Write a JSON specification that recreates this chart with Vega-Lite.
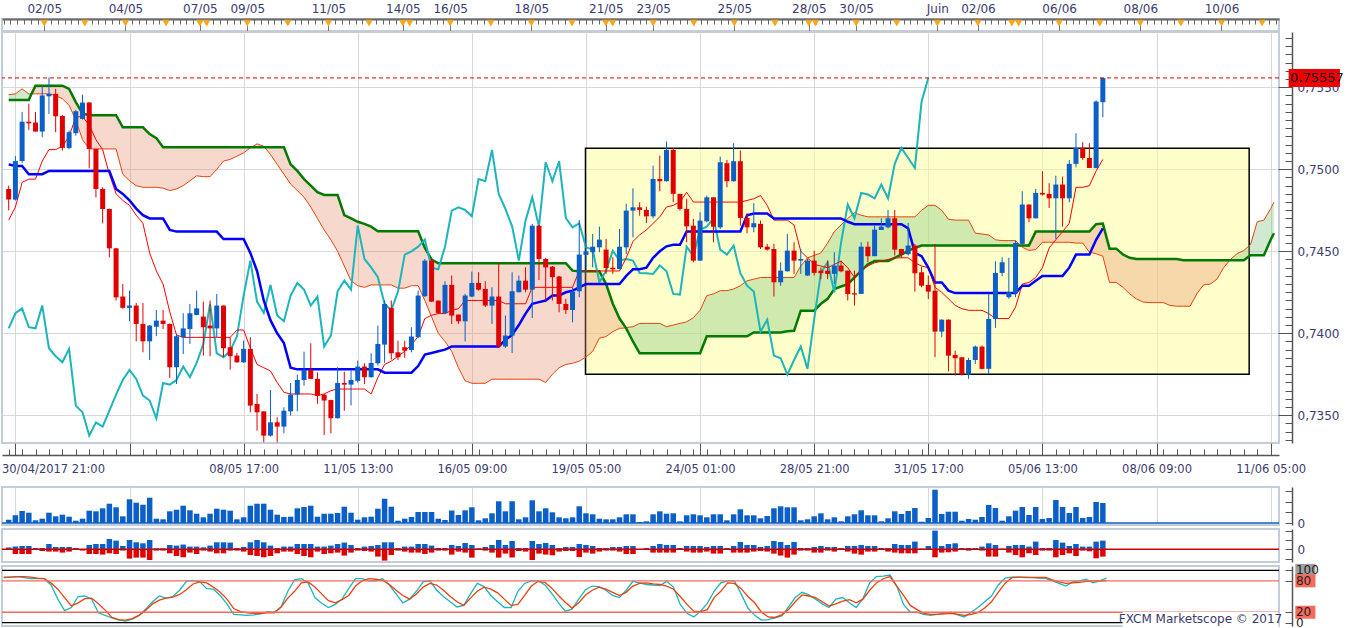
{
  "$schema": "https://vega.github.io/schema/vega-lite/v6.json",
  "padding": {"left": 0, "top": 1, "right": 0, "bottom": 0},
  "background": "white",
  "config": {
    "view": {"stroke": "#c4ccd8", "strokeWidth": 2},
    "axis": {"labelFont": "DejaVu Sans", "labelColor": "#3b3b6e", "labelFontSize": 12, "domainColor": "#555555", "tickColor": "#555555", "gridColor": "#d8d8d8", "gridWidth": 1},
    "text": {"font": "DejaVu Sans"}
  },
  "datasets": {
    "k": [
      {"i":0,"o":0.7488,"h":0.749,"l":0.7475,"c":0.74815,"v":3.3,"u":1.7,"n":-0.7,"sk":87,"sd":86,"t":0.7469,"j":0.7503},
      {"i":1,"o":0.74815,"h":0.7508,"l":0.7481,"c":0.7505,"v":7.7,"u":2.7,"n":-4.7,"sk":87,"sd":87,"t":0.7477,"j":0.7502},
      {"i":2,"o":0.7505,"h":0.7535,"l":0.7504,"c":0.7529,"v":12,"u":3.3,"n":-4.7,"sk":88,"sd":88,"t":0.7492,"j":0.7502},
      {"i":3,"o":0.7529,"h":0.754,"l":0.7524,"c":0.7528,"v":10.3,"u":3.3,"n":-4.7,"sk":86,"sd":88,"t":0.7494,"j":0.7497},
      {"i":4,"o":0.75285,"h":0.7535,"l":0.7523,"c":0.7523,"v":2.7,"u":1.3,"n":-0.7,"sk":84,"sd":87,"t":0.7494,"j":0.7497},
      {"i":5,"o":0.7523,"h":0.7551,"l":0.75195,"c":0.7545,"v":4.3,"u":1.3,"n":-1.7,"sk":84,"sd":85,"t":0.7505,"j":0.7497},
      {"i":6,"o":0.75445,"h":0.7556,"l":0.75337,"c":0.7546,"v":10.3,"u":5.3,"n":-2.3,"sk":84,"sd":84,"t":0.7512,"j":0.7499},
      {"i":7,"o":0.7546,"h":0.7549,"l":0.75226,"c":0.75323,"v":6.7,"u":2.3,"n":-2.3,"sk":72,"sd":76,"t":0.7512,"j":0.7499},
      {"i":8,"o":0.75325,"h":0.7533,"l":0.75114,"c":0.7513,"v":8.3,"u":2.3,"n":-3.3,"sk":45,"sd":64,"t":0.7514,"j":0.7499},
      {"i":9,"o":0.7513,"h":0.75236,"l":0.75122,"c":0.75226,"v":6.3,"u":2.3,"n":-2.3,"sk":23,"sd":48,"t":0.752,"j":0.7499},
      {"i":10,"o":0.7522,"h":0.75362,"l":0.75205,"c":0.75354,"v":2.3,"u":1.3,"n":-0.7,"sk":29,"sd":32,"t":0.7532,"j":0.7499},
      {"i":11,"o":0.75307,"h":0.75455,"l":0.75303,"c":0.75407,"v":4.3,"u":0.3,"n":-1.3,"sk":50,"sd":38,"t":0.7532,"j":0.7499},
      {"i":12,"o":0.75407,"h":0.7541,"l":0.75006,"c":0.75124,"v":12.3,"u":4.3,"n":-4.7,"sk":51,"sd":46,"t":0.7527,"j":0.7499},
      {"i":13,"o":0.75124,"h":0.75124,"l":0.74829,"c":0.7488,"v":11.7,"u":5.3,"n":-4.7,"sk":45,"sd":47,"t":0.7518,"j":0.7499},
      {"i":14,"o":0.7488,"h":0.7489,"l":0.7467,"c":0.74758,"v":14.7,"u":5.3,"n":-5.3,"sk":19,"sd":36,"t":0.7512,"j":0.7499},
      {"i":15,"o":0.74758,"h":0.7476,"l":0.74463,"c":0.74518,"v":19.3,"u":10.3,"n":-4,"sk":14,"sd":24,"t":0.7497,"j":0.7499},
      {"i":16,"o":0.74518,"h":0.7452,"l":0.742,"c":0.74219,"v":15.7,"u":8.7,"n":-4.7,"sk":9,"sd":10,"t":0.7485,"j":0.7488},
      {"i":17,"o":0.74224,"h":0.743,"l":0.7415,"c":0.74155,"v":6.7,"u":3.3,"n":-1.3,"sk":5,"sd":6,"t":0.7481,"j":0.7485},
      {"i":18,"o":0.74155,"h":0.7426,"l":0.74073,"c":0.74169,"v":23.7,"u":9.3,"n":-9.3,"sk":3,"sd":5,"t":0.7478,"j":0.7481},
      {"i":19,"o":0.74169,"h":0.74185,"l":0.73951,"c":0.74057,"v":20.3,"u":7,"n":-8.3,"sk":7,"sd":8,"t":0.7472,"j":0.7476},
      {"i":20,"o":0.74057,"h":0.74185,"l":0.73884,"c":0.73951,"v":18.3,"u":6,"n":-8.3,"sk":14,"sd":14,"t":0.7467,"j":0.7472},
      {"i":21,"o":0.73951,"h":0.7405,"l":0.73837,"c":0.74047,"v":25.3,"u":9.3,"n":-10.7,"sk":26,"sd":24,"t":0.7449,"j":0.747},
      {"i":22,"o":0.7404,"h":0.74142,"l":0.73982,"c":0.74077,"v":4.3,"u":1,"n":-1.3,"sk":40,"sd":36,"t":0.7438,"j":0.747},
      {"i":23,"o":0.74077,"h":0.74142,"l":0.74026,"c":0.74057,"v":3.7,"u":1,"n":-1.3,"sk":51,"sd":43,"t":0.743,"j":0.747},
      {"i":24,"o":0.74057,"h":0.7406,"l":0.73728,"c":0.73793,"v":11.7,"u":4.3,"n":-4,"sk":47,"sd":47,"t":0.7413,"j":0.7463},
      {"i":25,"o":0.73793,"h":0.73996,"l":0.73691,"c":0.73982,"v":13.3,"u":3.7,"n":-6.7,"sk":50,"sd":49,"t":0.7399,"j":0.7462},
      {"i":26,"o":0.73976,"h":0.74122,"l":0.73874,"c":0.7403,"v":17.3,"u":4.7,"n":-8,"sk":62,"sd":54,"t":0.73975,"j":0.7462},
      {"i":27,"o":0.74026,"h":0.74179,"l":0.73935,"c":0.74122,"v":12.7,"u":2.7,"n":-3.3,"sk":79,"sd":63,"t":0.73975,"j":0.7462},
      {"i":28,"o":0.74112,"h":0.7426,"l":0.7411,"c":0.74152,"v":9.3,"u":2.7,"n":-4.7,"sk":81,"sd":74,"t":0.73975,"j":0.7462},
      {"i":29,"o":0.74102,"h":0.74193,"l":0.73864,"c":0.74037,"v":5.7,"u":2,"n":-1.3,"sk":78,"sd":78,"t":0.73975,"j":0.7462},
      {"i":30,"o":0.74047,"h":0.742,"l":0.7386,"c":0.7403,"v":9.3,"u":3.7,"n":-2.3,"sk":65,"sd":76,"t":0.73975,"j":0.7462},
      {"i":31,"o":0.7403,"h":0.7424,"l":0.73976,"c":0.74169,"v":14.3,"u":7,"n":-4,"sk":64,"sd":68,"t":0.73975,"j":0.7462},
      {"i":32,"o":0.74169,"h":0.7417,"l":0.73854,"c":0.73909,"v":13.3,"u":7,"n":-4,"sk":52,"sd":58,"t":0.73975,"j":0.74575},
      {"i":33,"o":0.73915,"h":0.73976,"l":0.73778,"c":0.7386,"v":12.3,"u":6.7,"n":-1.3,"sk":36,"sd":45,"t":0.73975,"j":0.74575},
      {"i":34,"o":0.73864,"h":0.7388,"l":0.7382,"c":0.73823,"v":3.7,"u":1.3,"n":-1.3,"sk":16,"sd":27,"t":0.7402,"j":0.74575},
      {"i":35,"o":0.73823,"h":0.73955,"l":0.7382,"c":0.73905,"v":5.7,"u":2.3,"n":-2.3,"sk":15,"sd":21,"t":0.7402,"j":0.74575},
      {"i":36,"o":0.73905,"h":0.73976,"l":0.73518,"c":0.73559,"v":17.3,"u":7,"n":-5.7,"sk":14,"sd":19,"t":0.7391,"j":0.7449},
      {"i":37,"o":0.73569,"h":0.7363,"l":0.73406,"c":0.73518,"v":19.3,"u":9.3,"n":-6.7,"sk":15,"sd":18,"t":0.7381,"j":0.7438},
      {"i":38,"o":0.73524,"h":0.73524,"l":0.73335,"c":0.73376,"v":19.3,"u":7,"n":-8,"sk":17,"sd":18,"t":0.7379,"j":0.742},
      {"i":39,"o":0.73376,"h":0.73654,"l":0.7337,"c":0.73457,"v":13.3,"u":3.7,"n":-6.7,"sk":21,"sd":19,"t":0.7377,"j":0.7408},
      {"i":40,"o":0.73457,"h":0.73488,"l":0.73335,"c":0.73431,"v":8.3,"u":1.3,"n":-4,"sk":20,"sd":19,"t":0.737,"j":0.74},
      {"i":41,"o":0.73431,"h":0.73549,"l":0.7339,"c":0.73528,"v":6,"u":2.7,"n":-2.3,"sk":30,"sd":30,"t":0.7364,"j":0.7394},
      {"i":42,"o":0.73524,"h":0.73697,"l":0.73498,"c":0.73626,"v":6.3,"u":2.7,"n":-2.3,"sk":60,"sd":47,"t":0.7363,"j":0.7379},
      {"i":43,"o":0.73626,"h":0.73748,"l":0.73524,"c":0.73715,"v":14.7,"u":5.3,"n":-4.7,"sk":82,"sd":60,"t":0.7363,"j":0.7378},
      {"i":44,"o":0.73715,"h":0.73888,"l":0.73681,"c":0.73776,"v":16,"u":5.3,"n":-6.7,"sk":84,"sd":76,"t":0.7363,"j":0.7378},
      {"i":45,"o":0.73776,"h":0.73939,"l":0.7372,"c":0.73722,"v":17.3,"u":5.3,"n":-8,"sk":76,"sd":78,"t":0.7363,"j":0.7378},
      {"i":46,"o":0.73722,"h":0.73762,"l":0.7357,"c":0.7362,"v":6.3,"u":2.7,"n":-2.3,"sk":48,"sd":68,"t":0.7362,"j":0.7378},
      {"i":47,"o":0.73626,"h":0.7363,"l":0.7338,"c":0.7359,"v":9.3,"u":2.7,"n":-4.7,"sk":37,"sd":55,"t":0.7363,"j":0.7378},
      {"i":48,"o":0.73593,"h":0.73595,"l":0.7339,"c":0.73482,"v":9.3,"u":3.7,"n":-4,"sk":29,"sd":42,"t":0.7365,"j":0.7378},
      {"i":49,"o":0.73482,"h":0.73793,"l":0.7348,"c":0.73697,"v":10,"u":5.3,"n":-3.3,"sk":35,"sd":38,"t":0.7366,"j":0.7378},
      {"i":50,"o":0.73697,"h":0.73766,"l":0.73528,"c":0.73687,"v":16.3,"u":6.7,"n":-6.3,"sk":45,"sd":44,"t":0.7366,"j":0.7378},
      {"i":51,"o":0.73687,"h":0.73772,"l":0.7356,"c":0.73715,"v":10.3,"u":4.3,"n":-3.3,"sk":65,"sd":52,"t":0.7366,"j":0.7378},
      {"i":52,"o":0.7371,"h":0.73833,"l":0.737,"c":0.73797,"v":3.3,"u":1.3,"n":-1.3,"sk":84,"sd":70,"t":0.7366,"j":0.7378},
      {"i":53,"o":0.73797,"h":0.73817,"l":0.7369,"c":0.73732,"v":5.7,"u":2.7,"n":-1.7,"sk":84,"sd":80,"t":0.7366,"j":0.7378},
      {"i":54,"o":0.73732,"h":0.73878,"l":0.7373,"c":0.73819,"v":6.3,"u":3.3,"n":-2.3,"sk":80,"sd":84,"t":0.7363,"j":0.7378},
      {"i":55,"o":0.73817,"h":0.74047,"l":0.73803,"c":0.73935,"v":14.3,"u":4.3,"n":-7.3,"sk":80,"sd":83,"t":0.7373,"j":0.7378},
      {"i":56,"o":0.73931,"h":0.742,"l":0.7382,"c":0.74179,"v":24.3,"u":7,"n":-11.3,"sk":84,"sd":81,"t":0.7381,"j":0.7376},
      {"i":57,"o":0.74155,"h":0.742,"l":0.7384,"c":0.73878,"v":16.3,"u":7,"n":-5.7,"sk":72,"sd":73,"t":0.7383,"j":0.7376},
      {"i":58,"o":0.73884,"h":0.73955,"l":0.73837,"c":0.73854,"v":2.3,"u":1.3,"n":-1.3,"sk":55,"sd":62,"t":0.7386,"j":0.7376},
      {"i":59,"o":0.73915,"h":0.73955,"l":0.7385,"c":0.73894,"v":4.3,"u":2.7,"n":-2.3,"sk":38,"sd":52,"t":0.7389,"j":0.7376},
      {"i":60,"o":0.73898,"h":0.74037,"l":0.73884,"c":0.7398,"v":6,"u":2.7,"n":-3.3,"sk":45,"sd":45,"t":0.7393,"j":0.7376},
      {"i":61,"o":0.73976,"h":0.7426,"l":0.7397,"c":0.7423,"v":11,"u":5.3,"n":-3.3,"sk":60,"sd":55,"t":0.7398,"j":0.738},
      {"i":62,"o":0.74226,"h":0.74453,"l":0.7422,"c":0.74443,"v":11,"u":5.3,"n":-4.7,"sk":78,"sd":68,"t":0.7409,"j":0.7387},
      {"i":63,"o":0.74443,"h":0.74453,"l":0.7419,"c":0.74193,"v":11,"u":3.7,"n":-3.3,"sk":80,"sd":75,"t":0.7411,"j":0.7388},
      {"i":64,"o":0.74199,"h":0.742,"l":0.74118,"c":0.74124,"v":4.3,"u":1.3,"n":-1.3,"sk":62,"sd":72,"t":0.7412,"j":0.7389},
      {"i":65,"o":0.74122,"h":0.74317,"l":0.7412,"c":0.74295,"v":3,"u":1.3,"n":-1.3,"sk":50,"sd":62,"t":0.7412,"j":0.739},
      {"i":66,"o":0.74295,"h":0.74352,"l":0.74057,"c":0.74108,"v":12.5,"u":4.3,"n":-5.3,"sk":40,"sd":50,"t":0.7414,"j":0.7392},
      {"i":67,"o":0.74114,"h":0.74114,"l":0.74057,"c":0.74073,"v":8,"u":3.3,"n":-2.3,"sk":30,"sd":40,"t":0.7415,"j":0.7392},
      {"i":68,"o":0.74073,"h":0.7424,"l":0.73951,"c":0.7423,"v":12.7,"u":6.3,"n":-3.3,"sk":33,"sd":33,"t":0.742,"j":0.7392},
      {"i":69,"o":0.74224,"h":0.74376,"l":0.7422,"c":0.74307,"v":15.7,"u":4.3,"n":-8.3,"sk":55,"sd":47,"t":0.742,"j":0.7392},
      {"i":70,"o":0.74307,"h":0.74372,"l":0.7426,"c":0.74266,"v":2.7,"u":1,"n":0,"sk":75,"sd":60,"t":0.742,"j":0.7392},
      {"i":71,"o":0.7427,"h":0.74317,"l":0.7416,"c":0.74169,"v":4.7,"u":2.3,"n":-1.3,"sk":69,"sd":68,"t":0.742,"j":0.7392},
      {"i":72,"o":0.74169,"h":0.7428,"l":0.74057,"c":0.74224,"v":9.7,"u":4.3,"n":-3.3,"sk":52,"sd":64,"t":0.742,"j":0.7392},
      {"i":73,"o":0.74224,"h":0.74433,"l":0.7391,"c":0.73919,"v":21.7,"u":9.3,"n":-8.3,"sk":40,"sd":57,"t":0.742,"j":0.7392},
      {"i":74,"o":0.73919,"h":0.74108,"l":0.7391,"c":0.73986,"v":11.7,"u":4.3,"n":-4.3,"sk":29,"sd":45,"t":0.7418,"j":0.7396},
      {"i":75,"o":0.73986,"h":0.74372,"l":0.7388,"c":0.74256,"v":21.7,"u":8.3,"n":-8.3,"sk":29,"sd":33,"t":0.7418,"j":0.7399},
      {"i":76,"o":0.7425,"h":0.74352,"l":0.7425,"c":0.74321,"v":3.7,"u":1.3,"n":-1.7,"sk":60,"sd":35,"t":0.7418,"j":0.7405},
      {"i":77,"o":0.74321,"h":0.74402,"l":0.7425,"c":0.74266,"v":5.7,"u":1.3,"n":-2.3,"sk":75,"sd":52,"t":0.7418,"j":0.7412},
      {"i":78,"o":0.74266,"h":0.74667,"l":0.74093,"c":0.74656,"v":22.7,"u":8.3,"n":-10.7,"sk":80,"sd":70,"t":0.7428,"j":0.7418},
      {"i":79,"o":0.74656,"h":0.7466,"l":0.74325,"c":0.74453,"v":11.7,"u":5.3,"n":-4.3,"sk":80,"sd":79,"t":0.7428,"j":0.7419},
      {"i":80,"o":0.74453,"h":0.7446,"l":0.74203,"c":0.74402,"v":14.7,"u":6.3,"n":-5.3,"sk":72,"sd":77,"t":0.7428,"j":0.742},
      {"i":81,"o":0.74406,"h":0.7441,"l":0.742,"c":0.74342,"v":10.7,"u":4.3,"n":-6,"sk":56,"sd":66,"t":0.7428,"j":0.7423},
      {"i":82,"o":0.74346,"h":0.7435,"l":0.74128,"c":0.74179,"v":5.7,"u":1.3,"n":-2.3,"sk":38,"sd":52,"t":0.7428,"j":0.7423},
      {"i":83,"o":0.74179,"h":0.7421,"l":0.74118,"c":0.74142,"v":4.7,"u":2.3,"n":-1.7,"sk":22,"sd":39,"t":0.7428,"j":0.7425},
      {"i":84,"o":0.74142,"h":0.7428,"l":0.74067,"c":0.74254,"v":5.7,"u":2.3,"n":-1.7,"sk":26,"sd":28,"t":0.7428,"j":0.7426},
      {"i":85,"o":0.74256,"h":0.74691,"l":0.7422,"c":0.7448,"v":16.7,"u":5.3,"n":-7.7,"sk":45,"sd":38,"t":0.7438,"j":0.7428},
      {"i":86,"o":0.74478,"h":0.74606,"l":0.74382,"c":0.745,"v":9.7,"u":4.3,"n":-3.3,"sk":63,"sd":53,"t":0.7438,"j":0.743},
      {"i":87,"o":0.74494,"h":0.74606,"l":0.74402,"c":0.74528,"v":8.7,"u":3.3,"n":-4.3,"sk":70,"sd":62,"t":0.7438,"j":0.743},
      {"i":88,"o":0.74524,"h":0.7465,"l":0.74494,"c":0.74571,"v":4.3,"u":1.3,"n":-2.3,"sk":69,"sd":68,"t":0.7438,"j":0.743},
      {"i":89,"o":0.7451,"h":0.74575,"l":0.74362,"c":0.74398,"v":3.7,"u":1.3,"n":-1.3,"sk":62,"sd":64,"t":0.7438,"j":0.743},
      {"i":90,"o":0.744,"h":0.74463,"l":0.74362,"c":0.7439,"v":3.7,"u":2.3,"n":-1.3,"sk":52,"sd":58,"t":0.7438,"j":0.743},
      {"i":91,"o":0.74392,"h":0.74636,"l":0.7439,"c":0.74528,"v":5.7,"u":2.3,"n":-2.3,"sk":48,"sd":52,"t":0.7438,"j":0.743},
      {"i":92,"o":0.74524,"h":0.74789,"l":0.74484,"c":0.74748,"v":8.7,"u":3.3,"n":-4.7,"sk":62,"sd":58,"t":0.7446,"j":0.7435},
      {"i":93,"o":0.74748,"h":0.74884,"l":0.74585,"c":0.74768,"v":8.7,"u":3.3,"n":-4.7,"sk":79,"sd":70,"t":0.7456,"j":0.7439},
      {"i":94,"o":0.74768,"h":0.74799,"l":0.74717,"c":0.74752,"v":1,"u":0.3,"n":-0.3,"sk":76,"sd":75,"t":0.746,"j":0.7439},
      {"i":95,"o":0.74752,"h":0.74772,"l":0.74671,"c":0.74713,"v":1.7,"u":1.3,"n":0,"sk":73,"sd":76,"t":0.7463,"j":0.744},
      {"i":96,"o":0.74713,"h":0.75022,"l":0.747,"c":0.74941,"v":8.7,"u":3.3,"n":-3.3,"sk":72,"sd":74,"t":0.7467,"j":0.7446},
      {"i":97,"o":0.74941,"h":0.75083,"l":0.74866,"c":0.74927,"v":11.7,"u":5.3,"n":-3.3,"sk":71,"sd":73,"t":0.7471,"j":0.745},
      {"i":98,"o":0.74927,"h":0.75169,"l":0.74925,"c":0.75118,"v":9.3,"u":4.3,"n":-3.3,"sk":79,"sd":70,"t":0.7477,"j":0.7453},
      {"i":99,"o":0.75118,"h":0.75128,"l":0.74799,"c":0.7485,"v":9.7,"u":4.3,"n":-3.3,"sk":68,"sd":64,"t":0.7478,"j":0.7454},
      {"i":100,"o":0.7485,"h":0.7485,"l":0.74748,"c":0.74758,"v":1.7,"u":1.3,"n":-0.3,"sk":35,"sd":50,"t":0.748,"j":0.7454},
      {"i":101,"o":0.74758,"h":0.7482,"l":0.74555,"c":0.74652,"v":7.7,"u":3.3,"n":-2.3,"sk":18,"sd":35,"t":0.7486,"j":0.7462},
      {"i":102,"o":0.74656,"h":0.74697,"l":0.74433,"c":0.74443,"v":8.7,"u":3.3,"n":-3.3,"sk":11,"sd":22,"t":0.748,"j":0.7462},
      {"i":103,"o":0.74443,"h":0.74738,"l":0.7444,"c":0.74687,"v":7.7,"u":3.3,"n":-3.3,"sk":22,"sd":21,"t":0.748,"j":0.7462},
      {"i":104,"o":0.74683,"h":0.7484,"l":0.74677,"c":0.74829,"v":5.7,"u":2.3,"n":-2.3,"sk":37,"sd":25,"t":0.748,"j":0.7462},
      {"i":105,"o":0.74829,"h":0.7483,"l":0.74555,"c":0.7465,"v":8.7,"u":3.3,"n":-4.3,"sk":60,"sd":48,"t":0.748,"j":0.7462},
      {"i":106,"o":0.74646,"h":0.75077,"l":0.74636,"c":0.75043,"v":8.7,"u":3.3,"n":-4.3,"sk":76,"sd":60,"t":0.748,"j":0.7462},
      {"i":107,"o":0.75037,"h":0.75057,"l":0.7489,"c":0.74927,"v":2.7,"u":1.3,"n":-0.7,"sk":80,"sd":76,"t":0.748,"j":0.7462},
      {"i":108,"o":0.74927,"h":0.75159,"l":0.74925,"c":0.75049,"v":8.7,"u":3.3,"n":-3.3,"sk":80,"sd":75,"t":0.748,"j":0.7462},
      {"i":109,"o":0.75049,"h":0.75114,"l":0.74656,"c":0.74703,"v":13.7,"u":7.3,"n":-3.3,"sk":55,"sd":65,"t":0.748,"j":0.7462},
      {"i":110,"o":0.74703,"h":0.74732,"l":0.7461,"c":0.74646,"v":7.7,"u":4.3,"n":-3.3,"sk":28,"sd":50,"t":0.7481,"j":0.7472},
      {"i":111,"o":0.74646,"h":0.74793,"l":0.74616,"c":0.74671,"v":7.7,"u":4.3,"n":-2.3,"sk":14,"sd":38,"t":0.7482,"j":0.7473},
      {"i":112,"o":0.74667,"h":0.74687,"l":0.74514,"c":0.74524,"v":4.7,"u":2.3,"n":-1.7,"sk":5,"sd":20,"t":0.7484,"j":0.7473},
      {"i":113,"o":0.74528,"h":0.74545,"l":0.74504,"c":0.7451,"v":7,"u":3.3,"n":-2.3,"sk":6,"sd":11,"t":0.7478,"j":0.7473},
      {"i":114,"o":0.74514,"h":0.74545,"l":0.74224,"c":0.74311,"v":14.7,"u":8.3,"n":-4.3,"sk":9,"sd":10,"t":0.7469,"j":0.747},
      {"i":115,"o":0.74311,"h":0.74433,"l":0.7429,"c":0.74382,"v":16.7,"u":7.3,"n":-6.3,"sk":13,"sd":15,"t":0.7469,"j":0.747},
      {"i":116,"o":0.74378,"h":0.74606,"l":0.74376,"c":0.74504,"v":15.7,"u":4.3,"n":-8.3,"sk":30,"sd":25,"t":0.7469,"j":0.747},
      {"i":117,"o":0.74504,"h":0.74555,"l":0.74362,"c":0.74443,"v":15.7,"u":7.3,"n":-5.3,"sk":48,"sd":40,"t":0.7466,"j":0.747},
      {"i":118,"o":0.74443,"h":0.74514,"l":0.74362,"c":0.74453,"v":2.7,"u":1.3,"n":-1.3,"sk":58,"sd":53,"t":0.745,"j":0.747},
      {"i":119,"o":0.74352,"h":0.74453,"l":0.7435,"c":0.74443,"v":3.7,"u":1.3,"n":-1.3,"sk":53,"sd":51,"t":0.7446,"j":0.747},
      {"i":120,"o":0.74443,"h":0.74504,"l":0.74352,"c":0.74368,"v":6.7,"u":2.3,"n":-3.3,"sk":45,"sd":48,"t":0.7442,"j":0.747},
      {"i":121,"o":0.74382,"h":0.74402,"l":0.7433,"c":0.74366,"v":9.7,"u":3.3,"n":-3.3,"sk":36,"sd":40,"t":0.7441,"j":0.747},
      {"i":122,"o":0.74382,"h":0.74443,"l":0.7433,"c":0.74362,"v":3.7,"u":2.3,"n":-1.3,"sk":29,"sd":32,"t":0.744,"j":0.747},
      {"i":123,"o":0.74362,"h":0.74494,"l":0.743,"c":0.74413,"v":5.7,"u":2.3,"n":-2.3,"sk":45,"sd":36,"t":0.7442,"j":0.747},
      {"i":124,"o":0.74413,"h":0.74443,"l":0.74372,"c":0.74378,"v":1.7,"u":1.3,"n":-0.3,"sk":48,"sd":41,"t":0.7444,"j":0.747},
      {"i":125,"o":0.74382,"h":0.74382,"l":0.742,"c":0.7424,"v":6.7,"u":3.3,"n":-2.3,"sk":38,"sd":44,"t":0.744,"j":0.7468},
      {"i":126,"o":0.74244,"h":0.74382,"l":0.74169,"c":0.74236,"v":8.7,"u":3.3,"n":-4.3,"sk":29,"sd":38,"t":0.7434,"j":0.74665},
      {"i":127,"o":0.7424,"h":0.74555,"l":0.7424,"c":0.74528,"v":12.7,"u":4.3,"n":-5.3,"sk":46,"sd":45,"t":0.7439,"j":0.74665},
      {"i":128,"o":0.74528,"h":0.74559,"l":0.74433,"c":0.7447,"v":7.7,"u":3.3,"n":-2.3,"sk":76,"sd":62,"t":0.7441,"j":0.74665},
      {"i":129,"o":0.7447,"h":0.74657,"l":0.7447,"c":0.74632,"v":7.7,"u":3.3,"n":-2.3,"sk":88,"sd":76,"t":0.7443,"j":0.74665},
      {"i":130,"o":0.7463,"h":0.74701,"l":0.7463,"c":0.7465,"v":1.7,"u":1.3,"n":-0.3,"sk":89,"sd":84,"t":0.7444,"j":0.74665},
      {"i":131,"o":0.74646,"h":0.74752,"l":0.7464,"c":0.74701,"v":4.7,"u":1.3,"n":-2.3,"sk":91,"sd":88,"t":0.7445,"j":0.74665},
      {"i":132,"o":0.74701,"h":0.74752,"l":0.74474,"c":0.7451,"v":11.7,"u":5.3,"n":-3.3,"sk":70,"sd":70,"t":0.7446,"j":0.74665},
      {"i":133,"o":0.74514,"h":0.74515,"l":0.7446,"c":0.7448,"v":9,"u":4.3,"n":-4,"sk":35,"sd":52,"t":0.7446,"j":0.74665},
      {"i":134,"o":0.74482,"h":0.74673,"l":0.74474,"c":0.74535,"v":12,"u":4.3,"n":-4,"sk":20,"sd":33,"t":0.7446,"j":0.7464},
      {"i":135,"o":0.74535,"h":0.74545,"l":0.74254,"c":0.74366,"v":15,"u":7.7,"n":-4,"sk":20,"sd":25,"t":0.7443,"j":0.7449},
      {"i":136,"o":0.74372,"h":0.74406,"l":0.7428,"c":0.7429,"v":1.3,"u":0.7,"n":-0.7,"sk":16,"sd":18,"t":0.7441,"j":0.7447},
      {"i":137,"o":0.74295,"h":0.74352,"l":0.74209,"c":0.74254,"v":5,"u":3.3,"n":-0.7,"sk":14,"sd":16,"t":0.744,"j":0.744},
      {"i":138,"o":0.7426,"h":0.74545,"l":0.73854,"c":0.7401,"v":33.3,"u":18.7,"n":-8,"sk":16,"sd":16,"t":0.7428,"j":0.7431},
      {"i":139,"o":0.7401,"h":0.74085,"l":0.73976,"c":0.74083,"v":9,"u":3.3,"n":-3.3,"sk":18,"sd":17,"t":0.7425,"j":0.7431},
      {"i":140,"o":0.74083,"h":0.74085,"l":0.73768,"c":0.73864,"v":11.3,"u":5.3,"n":-3,"sk":20,"sd":18,"t":0.7421,"j":0.7426},
      {"i":141,"o":0.73868,"h":0.73894,"l":0.73742,"c":0.73848,"v":11.3,"u":6,"n":-2.3,"sk":15,"sd":16,"t":0.7417,"j":0.74245},
      {"i":142,"o":0.73854,"h":0.73854,"l":0.73742,"c":0.73748,"v":2.3,"u":1.3,"n":-0.7,"sk":11,"sd":14,"t":0.7415,"j":0.74245},
      {"i":143,"o":0.73748,"h":0.7385,"l":0.73722,"c":0.73837,"v":4,"u":1.3,"n":-1.3,"sk":20,"sd":16,"t":0.7414,"j":0.74245},
      {"i":144,"o":0.73837,"h":0.73925,"l":0.73813,"c":0.73919,"v":3.3,"u":1.3,"n":-0.7,"sk":29,"sd":19,"t":0.7414,"j":0.74245},
      {"i":145,"o":0.73919,"h":0.73925,"l":0.7378,"c":0.73783,"v":6,"u":2.7,"n":-1.3,"sk":40,"sd":28,"t":0.7414,"j":0.74245},
      {"i":146,"o":0.73783,"h":0.7424,"l":0.73752,"c":0.74087,"v":18,"u":6,"n":-7.3,"sk":51,"sd":40,"t":0.7412,"j":0.74245},
      {"i":147,"o":0.74087,"h":0.74439,"l":0.74033,"c":0.74368,"v":15,"u":4.3,"n":-7.3,"sk":72,"sd":58,"t":0.7409,"j":0.74245},
      {"i":148,"o":0.74368,"h":0.74463,"l":0.74348,"c":0.74433,"v":2.3,"u":0.7,"n":-0.7,"sk":85,"sd":75,"t":0.7409,"j":0.74245},
      {"i":149,"o":0.7422,"h":0.7446,"l":0.7421,"c":0.7425,"v":6.7,"u":3.3,"n":-3.3,"sk":87,"sd":86,"t":0.7409,"j":0.74245},
      {"i":150,"o":0.74244,"h":0.74565,"l":0.7422,"c":0.74551,"v":12.3,"u":4.3,"n":-5.7,"sk":87,"sd":87,"t":0.7416,"j":0.74245},
      {"i":151,"o":0.74545,"h":0.74866,"l":0.7454,"c":0.74785,"v":16,"u":4.3,"n":-8,"sk":86,"sd":87,"t":0.743,"j":0.7429},
      {"i":152,"o":0.74785,"h":0.74785,"l":0.74677,"c":0.74701,"v":8,"u":2.7,"n":-4,"sk":86,"sd":86.5,"t":0.7431,"j":0.7429},
      {"i":153,"o":0.74701,"h":0.7488,"l":0.747,"c":0.74856,"v":16,"u":7.7,"n":-5.7,"sk":85,"sd":86.5,"t":0.7434,"j":0.7432},
      {"i":154,"o":0.74856,"h":0.74988,"l":0.7484,"c":0.74846,"v":4,"u":1.3,"n":-1.3,"sk":84.6,"sd":86.5,"t":0.744,"j":0.7435},
      {"i":155,"o":0.7485,"h":0.74915,"l":0.74764,"c":0.74823,"v":5,"u":1.3,"n":-1.3,"sk":80,"sd":82,"t":0.7452,"j":0.7435},
      {"i":156,"o":0.74823,"h":0.74961,"l":0.74575,"c":0.74907,"v":23,"u":9.3,"n":-8,"sk":75,"sd":78,"t":0.7457,"j":0.7435},
      {"i":157,"o":0.74907,"h":0.74955,"l":0.7465,"c":0.74823,"v":16,"u":6.7,"n":-5.7,"sk":70,"sd":75,"t":0.7462,"j":0.7435},
      {"i":158,"o":0.74823,"h":0.75057,"l":0.74799,"c":0.75033,"v":10,"u":3.3,"n":-4,"sk":78,"sd":76,"t":0.7467,"j":0.744},
      {"i":159,"o":0.75033,"h":0.7522,"l":0.75012,"c":0.7513,"v":16,"u":5.3,"n":-6.7,"sk":80,"sd":77,"t":0.7489,"j":0.7448},
      {"i":160,"o":0.7513,"h":0.75165,"l":0.75057,"c":0.75069,"v":5,"u":2.7,"n":-1.3,"sk":83,"sd":79,"t":0.7489,"j":0.7448},
      {"i":161,"o":0.75069,"h":0.75159,"l":0.75008,"c":0.75008,"v":6,"u":2.7,"n":-2,"sk":76,"sd":80,"t":0.749,"j":0.7448},
      {"i":162,"o":0.75008,"h":0.7542,"l":0.75006,"c":0.75413,"v":21,"u":7.7,"n":-9,"sk":80,"sd":80,"t":0.7499,"j":0.7457},
      {"i":163,"o":0.75409,"h":0.75557,"l":0.75317,"c":0.75557,"v":20,"u":8.7,"n":-7.3,"sk":85,"sd":80,"t":0.7506,"j":0.7464}
    ],
    "ch": [
      {"i":0,"p":0.7403},{"i":1,"p":0.74122},{"i":2,"p":0.74152},{"i":3,"p":0.74037},{"i":4,"p":0.7403},{"i":5,"p":0.74169},{"i":6,"p":0.73909},{"i":7,"p":0.7386},{"i":8,"p":0.73823},{"i":9,"p":0.73905},
      {"i":10,"p":0.73559},{"i":11,"p":0.73518},{"i":12,"p":0.73376},{"i":13,"p":0.73457},{"i":14,"p":0.73431},{"i":15,"p":0.73528},{"i":16,"p":0.73626},{"i":17,"p":0.73715},{"i":18,"p":0.73776},{"i":19,"p":0.73722},
      {"i":20,"p":0.7362},{"i":21,"p":0.7359},{"i":22,"p":0.73482},{"i":23,"p":0.73697},{"i":24,"p":0.73687},{"i":25,"p":0.73715},{"i":26,"p":0.73797},{"i":27,"p":0.73732},{"i":28,"p":0.73819},{"i":29,"p":0.73935},
      {"i":30,"p":0.74179},{"i":31,"p":0.73878},{"i":32,"p":0.73854},{"i":33,"p":0.73894},{"i":34,"p":0.7398},{"i":35,"p":0.7423},{"i":36,"p":0.74443},{"i":37,"p":0.74193},{"i":38,"p":0.74124},{"i":39,"p":0.74295},
      {"i":40,"p":0.74108},{"i":41,"p":0.74073},{"i":42,"p":0.7423},{"i":43,"p":0.74307},{"i":44,"p":0.74266},{"i":45,"p":0.74169},{"i":46,"p":0.74224},{"i":47,"p":0.73919},{"i":48,"p":0.73986},{"i":49,"p":0.74256},
      {"i":50,"p":0.74321},{"i":51,"p":0.74266},{"i":52,"p":0.74656},{"i":53,"p":0.74453},{"i":54,"p":0.74402},{"i":55,"p":0.74342},{"i":56,"p":0.74179},{"i":57,"p":0.74142},{"i":58,"p":0.74254},{"i":59,"p":0.7448},
      {"i":60,"p":0.745},{"i":61,"p":0.74528},{"i":62,"p":0.74571},{"i":63,"p":0.74398},{"i":64,"p":0.7439},{"i":65,"p":0.74528},{"i":66,"p":0.74748},{"i":67,"p":0.74768},{"i":68,"p":0.74752},{"i":69,"p":0.74713},
      {"i":70,"p":0.74941},{"i":71,"p":0.74927},{"i":72,"p":0.75118},{"i":73,"p":0.7485},{"i":74,"p":0.74758},{"i":75,"p":0.74652},{"i":76,"p":0.74443},{"i":77,"p":0.74687},{"i":78,"p":0.74829},{"i":79,"p":0.7465},
      {"i":80,"p":0.75043},{"i":81,"p":0.74927},{"i":82,"p":0.75049},{"i":83,"p":0.74703},{"i":84,"p":0.74646},{"i":85,"p":0.74671},{"i":86,"p":0.74524},{"i":87,"p":0.7451},{"i":88,"p":0.74311},{"i":89,"p":0.74382},
      {"i":90,"p":0.74504},{"i":91,"p":0.74443},{"i":92,"p":0.74453},{"i":93,"p":0.74443},{"i":94,"p":0.74368},{"i":95,"p":0.74366},{"i":96,"p":0.74362},{"i":97,"p":0.74413},{"i":98,"p":0.74378},{"i":99,"p":0.7424},
      {"i":100,"p":0.74236},{"i":101,"p":0.74528},{"i":102,"p":0.7447},{"i":103,"p":0.74632},{"i":104,"p":0.7465},{"i":105,"p":0.74701},{"i":106,"p":0.7451},{"i":107,"p":0.7448},{"i":108,"p":0.74535},{"i":109,"p":0.74366},
      {"i":110,"p":0.7429},{"i":111,"p":0.74254},{"i":112,"p":0.7401},{"i":113,"p":0.74083},{"i":114,"p":0.73864},{"i":115,"p":0.73848},{"i":116,"p":0.73748},{"i":117,"p":0.73837},{"i":118,"p":0.73919},{"i":119,"p":0.73783},
      {"i":120,"p":0.74087},{"i":121,"p":0.74368},{"i":122,"p":0.74433},{"i":123,"p":0.7425},{"i":124,"p":0.74551},{"i":125,"p":0.74785},{"i":126,"p":0.74701},{"i":127,"p":0.74856},{"i":128,"p":0.74846},{"i":129,"p":0.74823},
      {"i":130,"p":0.74907},{"i":131,"p":0.74823},{"i":132,"p":0.75033},{"i":133,"p":0.7513},{"i":134,"p":0.75069},{"i":135,"p":0.75008},{"i":136,"p":0.75413},{"i":137,"p":0.75557}
    ],
    "ich": [
      {"i":0,"a":0.75455,"b":0.75423,"s":1,"g":"g"},{"i":1,"a":0.7546,"b":0.75423,"s":1,"g":"g"},{"i":2,"a":0.7549,"b":0.75423,"s":1,"g":"g"},{"i":3,"a":0.7546,"b":0.75423,"s":1,"g":"g"},{"i":3.4,"a":0.7546,"b":0.7546,"s":1,"g":"g"},
      {"i":3.4,"a":0.7546,"b":0.7546,"s":2,"g":"r"},{"i":4,"a":0.7546,"b":0.7551,"s":2,"g":"r"},{"i":5,"a":0.7546,"b":0.7551,"s":2,"g":"r"},{"i":6,"a":0.7546,"b":0.7551,"s":2,"g":"r"},{"i":7,"a":0.7545,"b":0.7551,"s":2,"g":"r"},
      {"i":8,"a":0.7543,"b":0.7551,"s":2,"g":"r"},{"i":9,"a":0.7539,"b":0.7549,"s":2,"g":"r"},{"i":10,"a":0.753,"b":0.7541,"s":2,"g":"r"},{"i":11,"a":0.7518,"b":0.7534,"s":2,"g":"r"},{"i":12,"a":0.75124,"b":0.7533,"s":2,"g":"r"},
      {"i":13,"a":0.75124,"b":0.7533,"s":2,"g":"r"},{"i":14,"a":0.75124,"b":0.7533,"s":2,"g":"r"},{"i":15,"a":0.75124,"b":0.7533,"s":2,"g":"r"},{"i":16,"a":0.75124,"b":0.7533,"s":2,"g":"r"},{"i":17,"a":0.7497,"b":0.75256,"s":2,"g":"r"},
      {"i":18,"a":0.7493,"b":0.75256,"s":2,"g":"r"},{"i":19,"a":0.749,"b":0.75256,"s":2,"g":"r"},{"i":20,"a":0.7489,"b":0.75256,"s":2,"g":"r"},{"i":21,"a":0.7489,"b":0.75215,"s":2,"g":"r"},{"i":22,"a":0.7489,"b":0.7519,"s":2,"g":"r"},
      {"i":23,"a":0.74885,"b":0.75134,"s":2,"g":"r"},{"i":24,"a":0.7487,"b":0.75134,"s":2,"g":"r"},{"i":25,"a":0.7488,"b":0.75134,"s":2,"g":"r"},{"i":26,"a":0.749,"b":0.75134,"s":2,"g":"r"},{"i":27,"a":0.7493,"b":0.75134,"s":2,"g":"r"},
      {"i":28,"a":0.7496,"b":0.75134,"s":2,"g":"r"},{"i":29,"a":0.74955,"b":0.75134,"s":2,"g":"r"},{"i":30,"a":0.74955,"b":0.75134,"s":2,"g":"r"},{"i":31,"a":0.75,"b":0.75134,"s":2,"g":"r"},{"i":32,"a":0.7505,"b":0.75134,"s":2,"g":"r"},
      {"i":33,"a":0.7506,"b":0.75134,"s":2,"g":"r"},{"i":34,"a":0.7508,"b":0.75134,"s":2,"g":"r"},{"i":35,"a":0.751,"b":0.75134,"s":2,"g":"r"},{"i":36,"a":0.7513,"b":0.75134,"s":2,"g":"r"},{"i":37,"a":0.75155,"b":0.75134,"s":2,"g":"r"},
      {"i":38,"a":0.7514,"b":0.75134,"s":2,"g":"r"},{"i":39,"a":0.7509,"b":0.75134,"s":2,"g":"r"},{"i":40,"a":0.7503,"b":0.75134,"s":2,"g":"r"},{"i":41,"a":0.7497,"b":0.75134,"s":2,"g":"r"},{"i":42,"a":0.7491,"b":0.7503,"s":2,"g":"r"},
      {"i":43,"a":0.7487,"b":0.7499,"s":2,"g":"r"},{"i":44,"a":0.7483,"b":0.7494,"s":2,"g":"r"},{"i":45,"a":0.7477,"b":0.749,"s":2,"g":"r"},{"i":46,"a":0.747,"b":0.7486,"s":2,"g":"r"},{"i":47,"a":0.7463,"b":0.74843,"s":2,"g":"r"},
      {"i":48,"a":0.7457,"b":0.74843,"s":2,"g":"r"},{"i":49,"a":0.745,"b":0.74843,"s":2,"g":"r"},{"i":50,"a":0.7441,"b":0.7472,"s":2,"g":"r"},{"i":51,"a":0.7432,"b":0.747,"s":2,"g":"r"},{"i":52,"a":0.7429,"b":0.7468,"s":2,"g":"r"},
      {"i":53,"a":0.7428,"b":0.74667,"s":2,"g":"r"},{"i":54,"a":0.74295,"b":0.7465,"s":2,"g":"r"},{"i":55,"a":0.74295,"b":0.74622,"s":2,"g":"r"},{"i":56,"a":0.74295,"b":0.74622,"s":2,"g":"r"},{"i":57,"a":0.74295,"b":0.74622,"s":2,"g":"r"},
      {"i":58,"a":0.74275,"b":0.74622,"s":2,"g":"r"},{"i":59,"a":0.74275,"b":0.74622,"s":2,"g":"r"},{"i":60,"a":0.7429,"b":0.74622,"s":2,"g":"r"},{"i":61,"a":0.7429,"b":0.74622,"s":2,"g":"r"},{"i":62,"a":0.742,"b":0.7452,"s":2,"g":"r"},
      {"i":63,"a":0.741,"b":0.7445,"s":2,"g":"r"},{"i":64,"a":0.74,"b":0.74427,"s":2,"g":"r"},{"i":65,"a":0.7395,"b":0.74427,"s":2,"g":"r"},{"i":66,"a":0.7389,"b":0.74427,"s":2,"g":"r"},{"i":67,"a":0.7379,"b":0.74427,"s":2,"g":"r"},
      {"i":68,"a":0.7371,"b":0.74427,"s":2,"g":"r"},{"i":69,"a":0.73695,"b":0.74427,"s":2,"g":"r"},{"i":70,"a":0.73695,"b":0.74427,"s":2,"g":"r"},{"i":71,"a":0.73695,"b":0.74427,"s":2,"g":"r"},{"i":72,"a":0.7372,"b":0.74427,"s":2,"g":"r"},
      {"i":73,"a":0.7372,"b":0.74427,"s":2,"g":"r"},{"i":74,"a":0.7372,"b":0.74427,"s":2,"g":"r"},{"i":75,"a":0.7372,"b":0.74427,"s":2,"g":"r"},{"i":76,"a":0.7372,"b":0.74427,"s":2,"g":"r"},{"i":77,"a":0.7372,"b":0.74427,"s":2,"g":"r"},
      {"i":78,"a":0.7372,"b":0.74427,"s":2,"g":"r"},{"i":79,"a":0.7372,"b":0.74427,"s":2,"g":"r"},{"i":80,"a":0.737,"b":0.74427,"s":2,"g":"r"},{"i":81,"a":0.7375,"b":0.74427,"s":2,"g":"r"},{"i":82,"a":0.7379,"b":0.74427,"s":2,"g":"r"},
      {"i":83,"a":0.7381,"b":0.74427,"s":2,"g":"r"},{"i":84,"a":0.73817,"b":0.74382,"s":2,"g":"r"},{"i":85,"a":0.7383,"b":0.74378,"s":2,"g":"r"},{"i":86,"a":0.73855,"b":0.74378,"s":2,"g":"r"},{"i":87,"a":0.7389,"b":0.74378,"s":2,"g":"r"},
      {"i":88,"a":0.7397,"b":0.74378,"s":2,"g":"r"},{"i":89,"a":0.7398,"b":0.743,"s":2,"g":"r"},{"i":90,"a":0.7401,"b":0.7418,"s":2,"g":"r"},{"i":91,"a":0.7403,"b":0.7409,"s":2,"g":"r"},{"i":91.95,"a":0.74033,"b":0.74033,"s":2,"g":"r"},
      {"i":91.95,"a":0.74033,"b":0.74033,"s":3,"g":"g"},{"i":92,"a":0.74035,"b":0.7403,"s":3,"g":"g"},{"i":93,"a":0.7404,"b":0.7395,"s":3,"g":"g"},{"i":94,"a":0.7406,"b":0.73878,"s":3,"g":"g"},{"i":95,"a":0.7406,"b":0.73878,"s":3,"g":"g"},
      {"i":96,"a":0.7406,"b":0.73878,"s":3,"g":"g"},{"i":97,"a":0.7406,"b":0.73878,"s":3,"g":"g"},{"i":98,"a":0.7404,"b":0.73878,"s":3,"g":"g"},{"i":99,"a":0.7405,"b":0.73878,"s":3,"g":"g"},{"i":100,"a":0.7406,"b":0.73878,"s":3,"g":"g"},
      {"i":101,"a":0.7407,"b":0.73878,"s":3,"g":"g"},{"i":102,"a":0.74095,"b":0.73878,"s":3,"g":"g"},{"i":103,"a":0.7414,"b":0.73878,"s":3,"g":"g"},{"i":104,"a":0.7423,"b":0.73982,"s":3,"g":"g"},{"i":105,"a":0.7424,"b":0.73982,"s":3,"g":"g"},
      {"i":106,"a":0.7426,"b":0.73982,"s":3,"g":"g"},{"i":107,"a":0.7426,"b":0.73982,"s":3,"g":"g"},{"i":108,"a":0.7427,"b":0.73982,"s":3,"g":"g"},{"i":109,"a":0.7429,"b":0.73982,"s":3,"g":"g"},{"i":110,"a":0.7432,"b":0.73982,"s":3,"g":"g"},
      {"i":111,"a":0.7433,"b":0.74005,"s":3,"g":"g"},{"i":112,"a":0.7434,"b":0.74005,"s":3,"g":"g"},{"i":113,"a":0.7434,"b":0.74005,"s":3,"g":"g"},{"i":114,"a":0.7434,"b":0.74005,"s":3,"g":"g"},{"i":115,"a":0.7434,"b":0.74005,"s":3,"g":"g"},
      {"i":116,"a":0.7434,"b":0.74012,"s":3,"g":"g"},{"i":117,"a":0.7434,"b":0.74015,"s":3,"g":"g"},{"i":118,"a":0.7441,"b":0.74138,"s":3,"g":"g"},{"i":119,"a":0.7446,"b":0.74138,"s":3,"g":"g"},{"i":120,"a":0.74475,"b":0.74138,"s":3,"g":"g"},
      {"i":121,"a":0.7449,"b":0.7418,"s":3,"g":"g"},{"i":122,"a":0.7455,"b":0.7421,"s":3,"g":"g"},{"i":123,"a":0.7462,"b":0.7427,"s":3,"g":"g"},{"i":124,"a":0.7466,"b":0.74285,"s":3,"g":"g"},{"i":125,"a":0.747,"b":0.743,"s":3,"g":"g"},
      {"i":126,"a":0.74735,"b":0.7434,"s":3,"g":"g"},{"i":127,"a":0.7472,"b":0.7438,"s":3,"g":"g"},{"i":128,"a":0.7471,"b":0.7442,"s":3,"g":"g"},{"i":129,"a":0.7471,"b":0.7444,"s":3,"g":"g"},{"i":130,"a":0.7471,"b":0.7444,"s":3,"g":"g"},
      {"i":131,"a":0.7471,"b":0.7444,"s":3,"g":"g"},{"i":132,"a":0.7471,"b":0.7446,"s":3,"g":"g"},{"i":133,"a":0.7471,"b":0.7448,"s":3,"g":"g"},{"i":134,"a":0.7471,"b":0.74504,"s":3,"g":"g"},{"i":135,"a":0.7471,"b":0.7452,"s":3,"g":"g"},
      {"i":136,"a":0.7475,"b":0.74535,"s":3,"g":"g"},{"i":137,"a":0.7478,"b":0.74535,"s":3,"g":"g"},{"i":138,"a":0.7478,"b":0.74535,"s":3,"g":"g"},{"i":139,"a":0.7475,"b":0.74535,"s":3,"g":"g"},{"i":140,"a":0.74695,"b":0.74535,"s":3,"g":"g"},
      {"i":141,"a":0.7469,"b":0.74535,"s":3,"g":"g"},{"i":142,"a":0.7469,"b":0.74535,"s":3,"g":"g"},{"i":143,"a":0.7469,"b":0.74535,"s":3,"g":"g"},{"i":144,"a":0.7461,"b":0.74535,"s":3,"g":"g"},{"i":145,"a":0.74605,"b":0.74535,"s":3,"g":"g"},
      {"i":146,"a":0.746,"b":0.74535,"s":3,"g":"g"},{"i":147,"a":0.7457,"b":0.74535,"s":3,"g":"g"},{"i":148,"a":0.74565,"b":0.74535,"s":3,"g":"g"},{"i":149,"a":0.74565,"b":0.74535,"s":3,"g":"g"},{"i":150,"a":0.74565,"b":0.74535,"s":3,"g":"g"},
      {"i":150.75,"a":0.74535,"b":0.74535,"s":3,"g":"g"},
      {"i":150.75,"a":0.74535,"b":0.74535,"s":4,"g":"r"},{"i":151,"a":0.74525,"b":0.74535,"s":4,"g":"r"},{"i":152,"a":0.74505,"b":0.74535,"s":4,"g":"r"},{"i":153,"a":0.7451,"b":0.7462,"s":4,"g":"r"},{"i":154,"a":0.74555,"b":0.7462,"s":4,"g":"r"},
      {"i":155,"a":0.74555,"b":0.7462,"s":4,"g":"r"},{"i":156,"a":0.74555,"b":0.7462,"s":4,"g":"r"},{"i":157,"a":0.74555,"b":0.7462,"s":4,"g":"r"},{"i":158,"a":0.74555,"b":0.7462,"s":4,"g":"r"},{"i":159,"a":0.7455,"b":0.7462,"s":4,"g":"r"},
      {"i":160,"a":0.7455,"b":0.7462,"s":4,"g":"r"},{"i":161,"a":0.74495,"b":0.7462,"s":4,"g":"r"},{"i":162,"a":0.74485,"b":0.74665,"s":4,"g":"r"},{"i":163,"a":0.7447,"b":0.74669,"s":4,"g":"r"},{"i":164,"a":0.7431,"b":0.74516,"s":4,"g":"r"},
      {"i":165,"a":0.7431,"b":0.74516,"s":4,"g":"r"},{"i":166,"a":0.7428,"b":0.7448,"s":4,"g":"r"},{"i":167,"a":0.7424,"b":0.7446,"s":4,"g":"r"},{"i":168,"a":0.7421,"b":0.74453,"s":4,"g":"r"},{"i":169,"a":0.7419,"b":0.74453,"s":4,"g":"r"},
      {"i":170,"a":0.74187,"b":0.74453,"s":4,"g":"r"},{"i":171,"a":0.74187,"b":0.74453,"s":4,"g":"r"},{"i":172,"a":0.74187,"b":0.74453,"s":4,"g":"r"},{"i":173,"a":0.7417,"b":0.74453,"s":4,"g":"r"},{"i":174,"a":0.74165,"b":0.74453,"s":4,"g":"r"},
      {"i":175,"a":0.74165,"b":0.74445,"s":4,"g":"r"},{"i":176,"a":0.74165,"b":0.74445,"s":4,"g":"r"},{"i":177,"a":0.7424,"b":0.74445,"s":4,"g":"r"},{"i":178,"a":0.74295,"b":0.74445,"s":4,"g":"r"},{"i":179,"a":0.743,"b":0.74445,"s":4,"g":"r"},
      {"i":180,"a":0.7433,"b":0.74445,"s":4,"g":"r"},{"i":181,"a":0.744,"b":0.74445,"s":4,"g":"r"},{"i":181.9,"a":0.74445,"b":0.74445,"s":4,"g":"r"},
      {"i":181.9,"a":0.74445,"b":0.74445,"s":5,"g":"g"},{"i":182,"a":0.7445,"b":0.74445,"s":5,"g":"g"},{"i":183,"a":0.74485,"b":0.74445,"s":5,"g":"g"},{"i":184,"a":0.74505,"b":0.74445,"s":5,"g":"g"},{"i":185,"a":0.7454,"b":0.74476,"s":5,"g":"g"},
      {"i":186,"a":0.7468,"b":0.74476,"s":5,"g":"g"},{"i":187,"a":0.7469,"b":0.74476,"s":5,"g":"g"},{"i":188,"a":0.7476,"b":0.7457,"s":5,"g":"g"},{"i":188.5,"a":0.748,"b":0.7461,"s":5,"g":"g"}
    ],
    "ev": [
      {"i":6},{"i":12},{"i":18},{"i":24},{"i":29},{"i":30},{"i":36},{"i":42},{"i":48},{"i":54},{"i":59},{"i":60},{"i":66},{"i":72},{"i":78},{"i":84},{"i":89},{"i":90},
      {"i":96},{"i":102},{"i":108},{"i":114},{"i":119},{"i":120},{"i":126},{"i":132},{"i":138},{"i":144},{"i":149},{"i":150},{"i":156},{"i":162},{"i":168},{"i":174},{"i":180},{"i":186}
    ],
    "box": [{"x1": 85.93, "x2": 184.8, "y1": 0.7375, "y2": 0.75128}],
    "lv": [{"lv": 100, "t": "100"}, {"lv": 80, "t": "80"}, {"lv": 20, "t": "20"}, {"lv": 0, "t": "0"}]
  },
  "spacing": 10,
  "vconcat": [
    {
      "spacing": 1,
      "bounds": "flush",
      "vconcat": [
        {
          "width": 1277,
          "height": 12,
          "data": {"name": "ev"},
          "layer": [
            {
              "mark": {"type": "point", "shape": "triangle-down", "filled": true, "color": "#f5a623", "size": 60, "opacity": 1},
              "encoding": {
                "x": {"field": "i", "type": "quantitative", "scale": {"domain": [-0.25, 188.5], "nice": false, "zero": false},
                  "axis": {"orient": "top", "title": null, "values": [6, 18, 29, 36, 48, 59, 66, 78, 89, 96, 108, 119, 126, 138, 144, 156, 168, 180],
                    "labelExpr": "['02/05','04/05','07/05','09/05','11/05','14/05','16/05','18/05','21/05','23/05','25/05','28/05','30/05','Juin','02/06','06/06','08/06','10/06'][indexof([6,18,29,36,48,59,66,78,89,96,108,119,126,138,144,156,168,180], datum.value)]",
                    "ticks": false, "domain": false, "grid": false, "labelPadding": 4, "labelOverlap": false, "labelFontSize": 12}},
                "y": {"datum": 0.66, "type": "quantitative", "scale": {"domain": [0, 1]}, "axis": null}
              }
            },
            {
              "mark": {"type": "point", "opacity": 0},
              "encoding": {
                "x": {"field": "i", "type": "quantitative", "axis": {"orient": "top", "title": null, "values": [6, 18, 29, 36, 48, 59, 66, 78, 89, 96, 108, 119, 126, 138, 144, 156, 168, 180], "labels": false, "tickSize": -12, "tickColor": "#777777", "domain": true, "domainWidth": 2, "domainColor": "#666666", "grid": false}},
                "y": {"datum": 0.5, "type": "quantitative"}
              }
            },
            {
              "mark": {"type": "point", "opacity": 0},
              "encoding": {
                "x": {"field": "i", "type": "quantitative", "axis": {"orient": "top", "title": null, "tickCount": 260, "labels": false, "tickSize": -5, "tickColor": "#666666", "domain": false, "grid": false}},
                "y": {"datum": 0.5, "type": "quantitative"}
              }
            }
          ],
          "resolve": {"axis": {"x": "independent"}}
        },
        {
          "width": 1277,
          "height": 411,
          "layer": [
            {
              "data": {"name": "box"},
              "mark": {"type": "rect", "fill": "#ffff99", "fillOpacity": 0.5, "stroke": "#000000", "strokeWidth": 1.5},
              "encoding": {
                "x": {"field": "x1", "type": "quantitative", "scale": {"domain": [-0.25, 188.5], "nice": false, "zero": false},
                  "axis": {"orient": "bottom", "title": null, "values": [1, 18, 35, 52, 69, 86, 103, 120, 137, 154, 171, 188],
                    "labelExpr": "['30/04/2017 21:00','','08/05 17:00','11/05 13:00','16/05 09:00','19/05 05:00','24/05 01:00','28/05 21:00','31/05 17:00','05/06 13:00','08/06 09:00','11/06 05:00'][indexof([1,18,35,52,69,86,103,120,137,154,171,188], datum.value)]",
                    "labelAlign": {"condition": {"test": "datum.value < 5", "value": "left"}, "value": "center"},
                    "labelOffset": {"condition": {"test": "datum.value < 5", "value": -14}, "value": 0},
                    "ticks": false, "domain": false, "grid": false, "offset": 12, "labelPadding": 8, "labelOverlap": false, "labelFontSize": 11.5}},
                "x2": {"field": "x2"},
                "y": {"field": "y1", "type": "quantitative", "scale": {"domain": [0.73331, 0.75837], "nice": false, "zero": false},
                  "axis": {"orient": "right", "title": null, "values": [0.735, 0.74, 0.745, 0.75, 0.755],
                    "labelExpr": "replace(format(datum.value, '.4f'), '.', ',')", "ticks": false, "domain": false, "grid": false, "offset": 13, "labelPadding": 5}},
                "y2": {"field": "y2"}
              }
            },
            {
              "data": {"name": "ich"},
              "mark": {"type": "area", "opacity": 0.35},
              "encoding": {
                "x": {"field": "i", "type": "quantitative", "axis": {"orient": "bottom", "title": null, "values": [1, 18, 35, 52, 69, 86, 103, 120, 137, 154, 171, 188], "labels": false, "tickSize": -12, "domain": true, "domainWidth": 1.5, "grid": false, "offset": 12}},
                "y": {"field": "a", "type": "quantitative", "axis": {"orient": "right", "title": null, "values": [0.735, 0.74, 0.745, 0.75, 0.755], "labels": false, "tickSize": -14, "domain": true, "domainWidth": 1.5, "grid": false, "offset": 13}},
                "y2": {"field": "b"},
                "fill": {"field": "g", "type": "nominal", "scale": {"domain": ["g", "r"], "range": ["#78c078", "#e8906c"]}, "legend": null},
                "detail": {"field": "s", "type": "nominal"}
              }
            },
            {
              "data": {"name": "ich"},
              "mark": {"type": "line", "color": "#e8430c", "strokeWidth": 1},
              "encoding": {
                "x": {"field": "i", "type": "quantitative", "axis": {"orient": "bottom", "title": null, "tickCount": 95, "labels": false, "tickSize": -6, "domain": false, "grid": false, "offset": 12}},
                "y": {"field": "a", "type": "quantitative", "axis": {"orient": "right", "title": null, "tickCount": 50, "labels": false, "tickSize": -7, "domain": false, "grid": false, "offset": 13}}
              }
            },
            {
              "data": {"name": "ich"},
              "mark": {"type": "line", "color": "#007a00", "strokeWidth": 2.5},
              "encoding": {
                "x": {"field": "i", "type": "quantitative", "axis": {"orient": "bottom", "title": null, "values": [1, 18, 35, 52, 69, 86, 103, 120, 137, 154, 171, 188], "labels": false, "ticks": false, "domain": false, "grid": true}},
                "y": {"field": "b", "type": "quantitative", "axis": {"orient": "right", "title": null, "values": [0.735, 0.74, 0.745, 0.75, 0.755], "labels": false, "ticks": false, "domain": false, "grid": true}}
              }
            },
            {
              "data": {"name": "ch"},
              "mark": {"type": "line", "color": "#1cb5bb", "strokeWidth": 2},
              "encoding": {
                "x": {"field": "i", "type": "quantitative", "axis": null},
                "y": {"field": "p", "type": "quantitative", "axis": null}
              }
            },
            {
              "data": {"name": "k"},
              "mark": {"type": "line", "color": "#ff0000", "strokeWidth": 1},
              "encoding": {
                "x": {"field": "i", "type": "quantitative", "axis": null},
                "y": {"field": "t", "type": "quantitative", "axis": null}
              }
            },
            {
              "data": {"name": "k"},
              "mark": {"type": "line", "color": "#0000ff", "strokeWidth": 2.5},
              "encoding": {
                "x": {"field": "i", "type": "quantitative", "axis": null},
                "y": {"field": "j", "type": "quantitative", "axis": null}
              }
            },
            {
              "data": {"name": "k"},
              "mark": {"type": "rule", "strokeWidth": 1},
              "encoding": {
                "x": {"field": "i", "type": "quantitative", "axis": null},
                "y": {"field": "l", "type": "quantitative", "axis": null},
                "y2": {"field": "h"},
                "color": {"condition": {"test": "datum.c >= datum.o", "value": "#0b5fc6"}, "value": "#e00000"}
              }
            },
            {
              "data": {"name": "k"},
              "mark": {"type": "bar", "size": 5},
              "encoding": {
                "x": {"field": "i", "type": "quantitative", "axis": null},
                "y": {"field": "o", "type": "quantitative", "axis": null},
                "y2": {"field": "c"},
                "color": {"condition": {"test": "datum.c >= datum.o", "value": "#0b5fc6"}, "value": "#e00000"}
              }
            },
            {
              "data": {"values": [{}]},
              "mark": {"type": "rule", "color": "#e00000", "strokeWidth": 1, "strokeDash": [4, 3]},
              "encoding": {"y": {"datum": 0.75557, "type": "quantitative", "axis": null}}
            },
            {
              "data": {"values": [{}]},
              "mark": {"type": "point", "shape": "M -2.85 -1 L 2.85 -1 L 2.85 1 L -2.85 1 Z", "filled": true, "fill": "#ee0000", "size": 324, "opacity": 1, "strokeWidth": 0},
              "encoding": {
                "x": {"datum": 194.5, "type": "quantitative", "axis": null},
                "y": {"datum": 0.75557, "type": "quantitative", "axis": null}
              }
            },
            {
              "data": {"values": [{}]},
              "mark": {"type": "text", "text": "0,75557", "align": "left", "baseline": "middle", "fontSize": 13, "color": "#111111"},
              "encoding": {
                "x": {"datum": 190.9, "type": "quantitative", "axis": null},
                "y": {"datum": 0.75557, "type": "quantitative", "axis": null}
              }
            }
          ],
          "resolve": {"axis": {"x": "independent", "y": "independent"}}
        }
      ]
    },
    {
      "spacing": 4,
      "bounds": "flush",
      "vconcat": [
        {
          "width": 1277,
          "height": 38,
          "layer": [
            {
              "data": {"name": "k"},
              "mark": {"type": "bar", "size": 5.5, "color": "#0b5fc6"},
              "encoding": {
                "x": {"field": "i", "type": "quantitative", "scale": {"domain": [-0.25, 188.5], "nice": false, "zero": false},
                  "axis": {"orient": "bottom", "title": null, "values": [1, 18, 35, 52, 69, 86, 103, 120, 137, 154, 171, 188], "labels": false, "ticks": false, "domain": false, "grid": true}},
                "y": {"field": "v", "type": "quantitative", "scale": {"domain": [-2, 36], "nice": false},
                  "axis": {"orient": "right", "title": null, "values": [0], "ticks": false, "domain": false, "grid": false, "offset": 13, "labelPadding": 5}}
              }
            },
            {
              "data": {"values": [{}]},
              "mark": {"type": "rule", "color": "#0b5fc6", "strokeWidth": 1.5},
              "encoding": {
                "y": {"datum": 0, "type": "quantitative", "axis": {"orient": "right", "title": null, "values": [0, 10.7, 21.3, 32], "labels": false, "tickSize": -7, "domain": true, "domainWidth": 1.5, "grid": false, "offset": 13}}
              }
            }
          ],
          "resolve": {"axis": {"y": "independent"}}
        },
        {
          "width": 1277,
          "height": 33,
          "layer": [
            {
              "data": {"name": "k"},
              "mark": {"type": "bar", "size": 5.5, "color": "#0b5fc6"},
              "encoding": {
                "x": {"field": "i", "type": "quantitative", "scale": {"domain": [-0.25, 188.5], "nice": false, "zero": false},
                  "axis": {"orient": "bottom", "title": null, "values": [1, 18, 35, 52, 69, 86, 103, 120, 137, 154, 171, 188], "labels": false, "ticks": false, "domain": false, "grid": true}},
                "y": {"field": "u", "type": "quantitative", "scale": {"domain": [-12.7, 20.3], "nice": false},
                  "axis": {"orient": "right", "title": null, "values": [0], "ticks": false, "domain": false, "grid": false, "offset": 13, "labelPadding": 5}}
              }
            },
            {
              "data": {"name": "k"},
              "mark": {"type": "bar", "size": 5.5, "color": "#e00000"},
              "encoding": {
                "x": {"field": "i", "type": "quantitative", "axis": null},
                "y": {"field": "n", "type": "quantitative", "axis": null}
              }
            },
            {
              "data": {"values": [{}]},
              "mark": {"type": "rule", "color": "#cc0000", "strokeWidth": 1.5},
              "encoding": {
                "y": {"datum": 0, "type": "quantitative", "axis": {"orient": "right", "title": null, "values": [-9.3, 0, 9.3, 18.6], "labels": false, "tickSize": -7, "domain": true, "domainWidth": 1.5, "grid": false, "offset": 13}}
              }
            }
          ],
          "resolve": {"axis": {"y": "independent"}}
        },
        {
          "width": 1277,
          "height": 60,
          "layer": [
            {
              "data": {"name": "k"},
              "mark": {"type": "line", "color": "#1cb5bb", "strokeWidth": 1.3},
              "encoding": {
                "x": {"field": "i", "type": "quantitative", "scale": {"domain": [-0.25, 188.5], "nice": false, "zero": false},
                  "axis": {"orient": "bottom", "title": null, "values": [1, 18, 35, 52, 69, 86, 103, 120, 137, 154, 171, 188], "labels": false, "ticks": false, "domain": false, "grid": true}},
                "y": {"field": "sk", "type": "quantitative", "scale": {"domain": [-6.3, 108.3], "nice": false, "zero": false},
                  "axis": {"orient": "right", "title": null, "values": [0, 20, 80, 100], "labels": false, "tickSize": -7, "domain": true, "domainWidth": 1.5, "grid": false, "offset": 13}}
              }
            },
            {
              "data": {"name": "k"},
              "mark": {"type": "line", "color": "#e8430c", "strokeWidth": 1.3},
              "encoding": {
                "x": {"field": "i", "type": "quantitative", "axis": null},
                "y": {"field": "sd", "type": "quantitative", "axis": null}
              }
            },
            {
              "data": {"name": "lv"},
              "mark": {"type": "rule", "strokeWidth": 1.3},
              "encoding": {
                "y": {"field": "lv", "type": "quantitative", "axis": null},
                "color": {"condition": {"test": "datum.lv == 100 || datum.lv == 0", "value": "#000000"}, "value": "#f26b5b"}
              }
            },
            {
              "data": {"values": [{}]},
              "mark": {"type": "point", "shape": "M -5.2 -0.5 L 5.2 -0.5 L 5.2 0.5 L -5.2 0.5 Z", "filled": true, "fill": "#ffffff", "size": 900, "opacity": 1, "strokeWidth": 0},
              "encoding": {
                "x": {"datum": 176.9, "type": "quantitative", "axis": null},
                "y": {"datum": 6.3, "type": "quantitative", "axis": null}
              }
            },
            {
              "data": {"values": [{}]},
              "mark": {"type": "text", "text": "FXCM Marketscope © 2017", "align": "center", "baseline": "middle", "fontSize": 12, "color": "#3b3b6e"},
              "encoding": {
                "x": {"datum": 176.9, "type": "quantitative", "axis": null},
                "y": {"datum": 6.3, "type": "quantitative", "axis": null}
              }
            },
            {
              "data": {"name": "lv"},
              "transform": [{"filter": "datum.lv > 0"}],
              "mark": {"type": "point", "shape": "M -1.55 -1 L 1.55 -1 L 1.55 1 L -1.55 1 Z", "filled": true, "size": 169, "opacity": 1, "strokeWidth": 0},
              "encoding": {
                "x": {"datum": 192.4, "type": "quantitative", "axis": null},
                "y": {"field": "lv", "type": "quantitative", "axis": null},
                "fill": {"condition": {"test": "datum.lv == 100", "value": "#a0a0a0"}, "value": "#f26b5b"}
              }
            },
            {
              "data": {"name": "lv"},
              "mark": {"type": "text", "align": "left", "baseline": "middle", "fontSize": 12, "color": "#222222"},
              "encoding": {
                "x": {"datum": 191.0, "type": "quantitative", "axis": null},
                "y": {"field": "lv", "type": "quantitative", "axis": null},
                "text": {"field": "t", "type": "nominal"}
              }
            }
          ],
          "resolve": {"axis": {"y": "independent"}}
        }
      ]
    }
  ]
}
